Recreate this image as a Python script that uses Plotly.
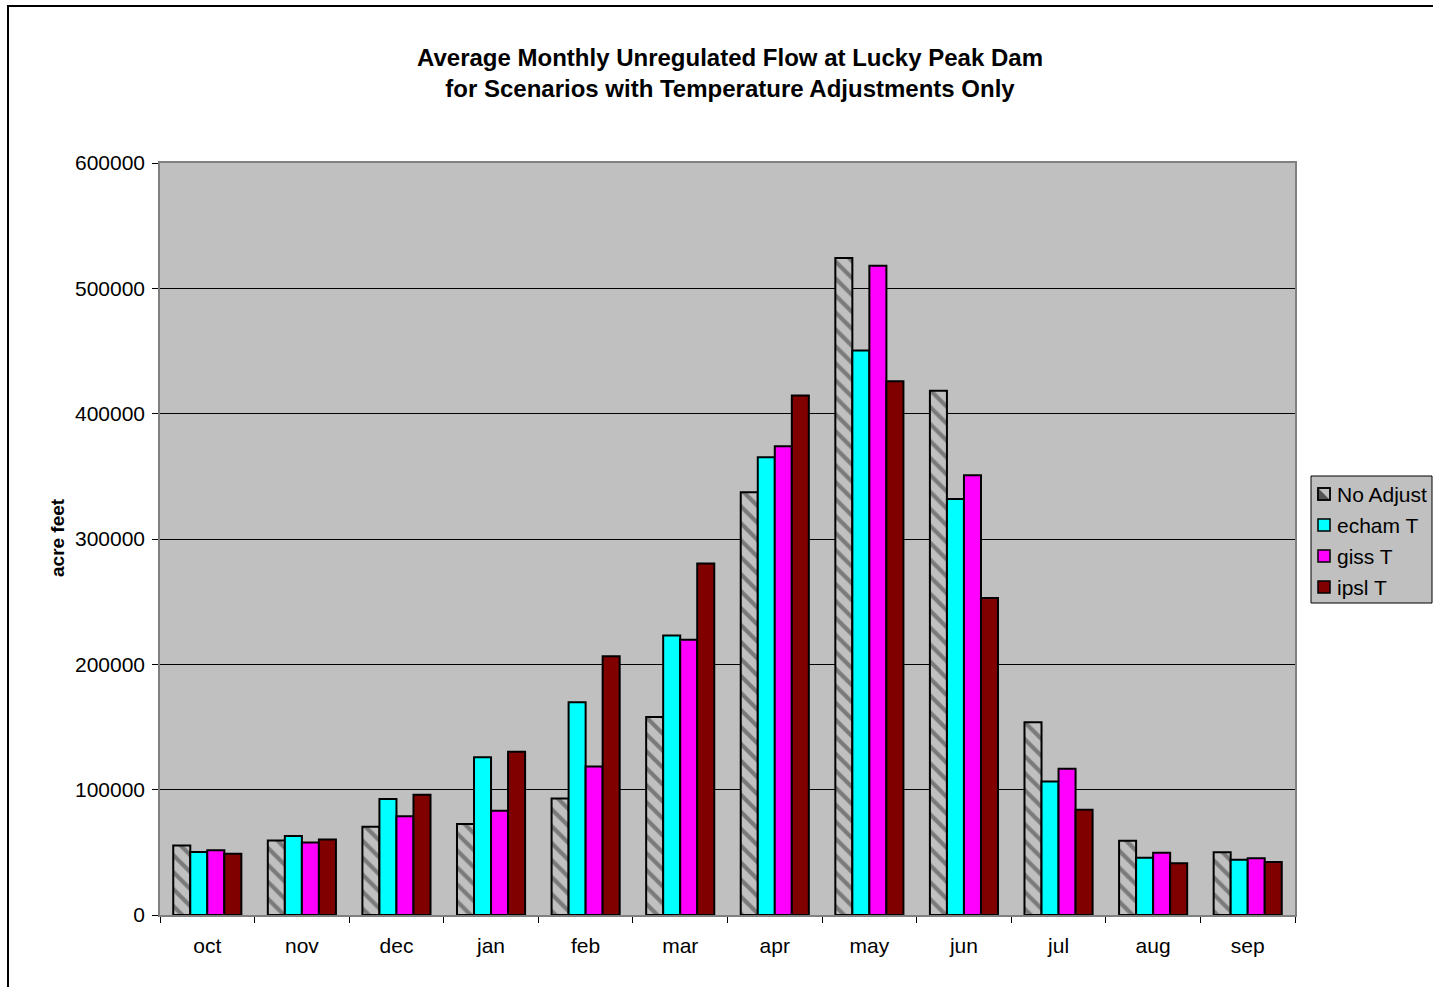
import plotly.graph_objects as go

months = ["oct", "nov", "dec", "jan", "feb", "mar", "apr", "may", "jun", "jul", "aug", "sep"]
no_adjust = [55500, 59500, 70500, 72600, 92900, 158000, 337300, 524300, 418200, 153700, 59300, 50000]
echam_t = [50300, 63000, 92600, 125800, 169700, 223100, 365200, 450400, 332000, 106600, 45700, 44100]
giss_t = [51600, 57900, 78700, 83200, 118400, 219700, 374000, 518000, 350800, 116700, 49700, 45200]
ipsl_t = [48900, 60300, 96000, 130300, 206400, 280400, 414400, 425800, 253000, 84000, 41200, 42300]
series_names = ["No Adjust", "echam T", "giss T", "ipsl T"]
y_ticks = [0, 100000, 200000, 300000, 400000, 500000, 600000]

FONT = "Arial, Liberation Sans, sans-serif"
W, H = 1433, 987
L, R, T, B = 160, 1295, 163, 915

colors = ["#C0C0C0", "#00FFFF", "#FF00FF", "#800000"]
values = [no_adjust, echam_t, giss_t, ipsl_t]

fig = go.Figure()
line = dict(color="black", width=2)
for i, (name, vals, col) in enumerate(zip(series_names, values, colors)):
    marker = dict(color=col, line=line)
    if i == 0:
        marker["pattern"] = dict(shape="\\", fgcolor="#333333", bgcolor="#C0C0C0",
                                 size=12, solidity=0.35)
    fig.add_bar(x=months, y=vals, name=name, marker=marker, showlegend=False)


def px_x(p):
    return (p - L) / (R - L)


def px_y(p):
    return (B - p) / (B - T)


fig.update_layout(
    width=W, height=H,
    margin=dict(l=L, r=W - R, t=T, b=H - B, pad=0),
    paper_bgcolor="white", plot_bgcolor="#C0C0C0",
    font=dict(family=FONT, size=21, color="black"),
    barmode="group", bargap=0.28, bargroupgap=0.0,
    title=dict(text="<b>Average Monthly Unregulated Flow at Lucky Peak Dam<br>for Scenarios with Temperature Adjustments Only</b>",
               x=px_x(730), xref="paper", xanchor="center", y=1 - 66 / H, yanchor="middle",
               font=dict(family=FONT, size=24, color="black")),
    showlegend=False,
)
fig.update_xaxes(
    type="category", tickson="boundaries", ticks="outside", ticklen=6,
    tickcolor="black", showline=True, linecolor="#808080", linewidth=1.5, mirror=True,
    showgrid=False, tickfont=dict(family=FONT, size=21), ticklabelstandoff=11,
)
fig.update_yaxes(
    range=[0, 600000], tickvals=y_ticks, ticktext=[str(v) for v in y_ticks],
    ticks="outside", ticklen=6, tickcolor="black",
    showline=True, linecolor="#808080", linewidth=1.5, mirror=True,
    showgrid=True, gridcolor="black", gridwidth=1, zeroline=False,
    tickfont=dict(family=FONT, size=21), ticklabelstandoff=3,
)
# y axis title
fig.add_annotation(text="<b>acre feet</b>", xref="paper", yref="paper",
                   x=px_x(57), y=px_y(538), textangle=-90, showarrow=False,
                   xanchor="center", yanchor="middle",
                   font=dict(family=FONT, size=19, color="black"))

# legend box
LX0, LX1, LY0, LY1 = 1311, 1432, 476, 603
fig.add_shape(type="rect", xref="paper", yref="paper",
              x0=px_x(LX0), x1=px_x(LX1), y0=px_y(LY1), y1=px_y(LY0),
              line=dict(color="black", width=1), fillcolor="#C0C0C0", layer="below")
for i, (name, col) in enumerate(zip(series_names, colors)):
    cy = 494 + i * 31
    fig.add_shape(type="rect", xref="paper", yref="paper",
                  x0=px_x(1318), x1=px_x(1330), y0=px_y(cy + 6), y1=px_y(cy - 6),
                  line=dict(color="black", width=1.5), fillcolor=col, layer="above")
    if i == 0:
        fig.add_shape(type="path", xref="paper", yref="paper",
                      path="M {} {} L {} {} L {} {} Z".format(px_x(1319), px_y(cy - 5), px_x(1329), px_y(cy + 5),
                                                          px_x(1319), px_y(cy + 5)),
                      line=dict(width=0), fillcolor="#555555", layer="above")
        fig.add_shape(type="rect", xref="paper", yref="paper",
                      x0=px_x(1318), x1=px_x(1330), y0=px_y(cy + 6), y1=px_y(cy - 6),
                      line=dict(color="black", width=1.5), fillcolor="rgba(0,0,0,0)", layer="above")
    fig.add_annotation(text=name, xref="paper", yref="paper",
                       x=px_x(1335), y=px_y(cy), xanchor="left", yanchor="middle",
                       showarrow=False, font=dict(family=FONT, size=21, color="black"))

# outer chart border
fig.add_shape(type="rect", xref="paper", yref="paper",
              x0=px_x(8), x1=px_x(1440), y0=px_y(995), y1=px_y(6),
              line=dict(color="black", width=2), fillcolor="rgba(0,0,0,0)", layer="above")

fig.write_html("out.html", config={"displayModeBar": False},
               post_script="document.body.style.margin='0';document.body.style.overflow='hidden';")
